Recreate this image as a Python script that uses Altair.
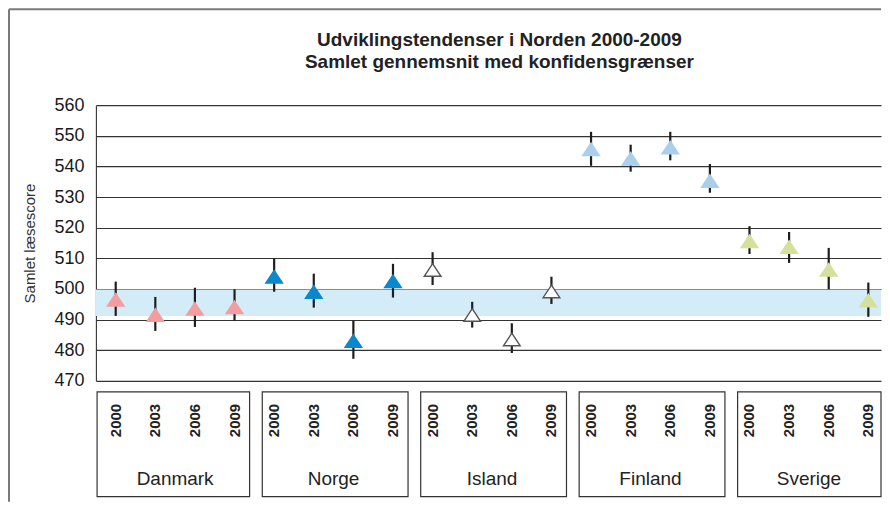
import altair as alt
import pandas as pd

# ---------------- data ----------------
countries = ["Danmark", "Norge", "Island", "Finland", "Sverige"]
years = ["2000", "2003", "2006", "2009"]

danmark_mean = [496.5, 491.5, 493.5, 494.0]
danmark_lo = [491.2, 486.3, 487.6, 489.7]
danmark_hi = [502.4, 497.4, 500.4, 499.9]

norge_mean = [504.0, 499.0, 483.0, 502.5]
norge_lo = [499.1, 493.9, 477.2, 497.2]
norge_hi = [510.0, 505.0, 489.7, 508.2]

island_mean = [506.2, 491.5, 483.5, 499.2]
island_lo = [501.3, 487.4, 479.1, 495.1]
island_hi = [512.0, 495.8, 488.8, 504.0]

finland_mean = [545.6, 542.5, 546.2, 535.2]
finland_lo = [540.2, 538.3, 542.0, 531.4]
finland_hi = [551.3, 547.1, 551.3, 540.8]

sverige_mean = [515.6, 513.7, 506.3, 496.2]
sverige_lo = [511.4, 508.5, 499.9, 490.9]
sverige_hi = [520.5, 518.6, 513.4, 502.1]

band_low = [491.2]
band_high = [499.85]

y_ticks = [470, 480, 490, 500, 510, 520, 530, 540, 550, 560]

fill_colors = ["#f29ea1", "#0a88cc", "#ffffff", "#a9cfec", "#d4e09b"]
stroke_colors = ["#f29ea1", "#0a88cc", "#555555", "#a9cfec", "#d4e09b"]

title_lines = ["Udviklingstendenser i Norden 2000-2009",
               "Samlet gennemsnit med konfidensgrænser"]
y_title = "Samlet læsescore"

# ---------------- tables ----------------
means = [danmark_mean, norge_mean, island_mean, finland_mean, sverige_mean]
los = [danmark_lo, norge_lo, island_lo, finland_lo, sverige_lo]
his = [danmark_hi, norge_hi, island_hi, finland_hi, sverige_hi]

rows = []
for g, c in enumerate(countries):
    for j, yr in enumerate(years):
        rows.append({"country": c, "year": yr, "idx": g * len(years) + j,
                     "mean": means[g][j], "lo": los[g][j], "hi": his[g][j]})
df = pd.DataFrame(rows)

n = len(df)
X_MAX = n - 0.68          # the plot stops a little short of the last half slot
box_rows = []
for g, c in enumerate(countries):
    left = g * 4 - 0.5 + (0.2 if g > 0 else 0.03)
    right = g * 4 + 3.5 - 0.12 if g < len(countries) - 1 else X_MAX
    box_rows.append({"country": c, "box_l": left, "box_r": right, "center": g * 4 + 1.5})
boxes = pd.DataFrame(box_rows)

band_df = pd.DataFrame({"lo": band_low, "hi": band_high})

W = 786
H = 276
BOTTOM_H = 105
FONT = "Liberation Sans"

x_scale = alt.Scale(domain=[-0.5, X_MAX], nice=False, zero=False)
y_scale = alt.Scale(domain=[470, 560], nice=False, zero=False)

y_axis = alt.Axis(values=y_ticks, grid=True, gridColor="#333333", gridWidth=1.1,
                  domain=True, domainColor="#333333", domainWidth=1.1, ticks=False,
                  labelFontSize=18, labelColor="#1a1a1a", labelPadding=12,
                  labelFont=FONT, title=y_title, titleFontSize=15,
                  titleFontWeight="normal", titleColor="#333333", titlePadding=16,
                  titleFont=FONT)

band = alt.Chart(band_df).mark_rect(color="#d4ebf8").encode(
    x=alt.value(0), x2=alt.value(W),
    y=alt.Y("lo:Q", scale=y_scale, axis=y_axis), y2="hi:Q")

bars = alt.Chart(df).mark_rule(color="#1e1e1e", strokeWidth=2.2).encode(
    x=alt.X("idx:Q", scale=x_scale, axis=None),
    y=alt.Y("lo:Q", scale=y_scale, axis=y_axis), y2="hi:Q")

TRI = "M0,-0.75L1,0.75L-1,0.75Z"
points = alt.Chart(df).mark_point(shape=TRI, filled=True, size=280, opacity=1,
                                  strokeWidth=1.4).encode(
    x=alt.X("idx:Q", scale=x_scale, axis=None),
    y=alt.Y("mean:Q", scale=y_scale, axis=y_axis),
    fill=alt.Fill("country:N", scale=alt.Scale(domain=countries, range=fill_colors), legend=None),
    stroke=alt.Stroke("country:N", scale=alt.Scale(domain=countries, range=stroke_colors), legend=None))

main = alt.layer(band, bars, points).properties(
    width=W, height=H,
    title=alt.TitleParams(text=title_lines, fontSize=19, fontWeight="bold", color="#222222",
                          font=FONT, anchor="middle", frame="group", dx=11, offset=5,
                          lineHeight=21.8, baseline="bottom"))

# ---------------- bottom category boxes ----------------
box_marks = alt.Chart(boxes).mark_rect(fill="#ffffff", fillOpacity=0, stroke="#333333",
                                       strokeWidth=1.2).encode(
    x=alt.X("box_l:Q", scale=x_scale, axis=None), x2="box_r:Q",
    y=alt.value(0), y2=alt.value(BOTTOM_H))

year_text = alt.Chart(df).mark_text(angle=270, align="right", baseline="middle",
                                    fontSize=15, fontWeight="bold", font=FONT,
                                    color="#222222").encode(
    x=alt.X("idx:Q", scale=x_scale, axis=None), y=alt.value(12), text="year:N")

country_text = alt.Chart(boxes).mark_text(align="center", baseline="alphabetic",
                                          fontSize=19, font=FONT, color="#222222").encode(
    x=alt.X("center:Q", scale=x_scale, axis=None), y=alt.value(93.7), text="country:N")

one = pd.DataFrame({"k": [0]})
frame_left = alt.Chart(one).mark_rule(color="#7a7a7a", strokeWidth=2).encode(
    x=alt.value(-87), y=alt.value(-383), y2=alt.value(110))
frame_top = alt.Chart(one).mark_rule(color="#7a7a7a", strokeWidth=2).encode(
    x=alt.value(-87), x2=alt.value(W), y=alt.value(-383))

bottom = alt.layer(box_marks, year_text, country_text, frame_left, frame_top).properties(
    width=W, height=BOTTOM_H)

chart = alt.vconcat(main, bottom, spacing=11, bounds="flush", padding=0).configure(
    font=FONT).configure_view(strokeWidth=0)

chart.save("out.html", embed_options={"renderer": "svg", "actions": False})
